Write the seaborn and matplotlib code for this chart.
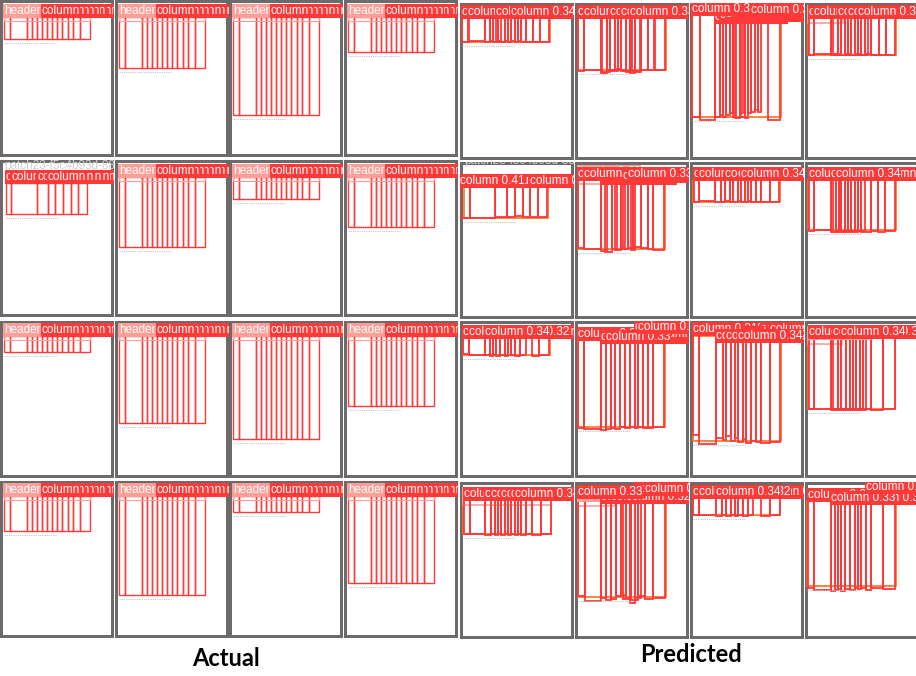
import matplotlib.pyplot as plt
from matplotlib.patches import Rectangle
import seaborn as sns

sns.set_theme(style="white")
plt.rcParams['font.family'] = ['Liberation Sans', 'DejaVu Sans']

RED = '#FF3838'
PINK = '#FF9D97'
ORANGE = '#FF701F'
FRAME = '#6b6b6b'

# column edges of the two table layouts on the ground-truth pages (px from page left)
layout_a = [4, 10, 26.5, 31.5, 36.5, 41.5, 46.5, 51.5, 56.5, 61.5, 68, 73, 80, 90]
layout_b = [6, 11, 37, 48, 55, 63, 71, 78, 87]

# ground truth pages, 4x4 grid: layout, table top, table bottom
actual_layout = [['a', 'a', 'a', 'a'], ['b', 'a', 'a', 'a'],
                 ['a', 'a', 'a', 'a'], ['a', 'a', 'a', 'a']]
actual_top = [[17, 17, 17, 17], [23, 17, 17, 17],
              [15, 15, 15, 15], [15, 15, 15, 15]]
actual_bottom = [[39, 68, 115, 52], [54, 87, 39, 67],
                 [31, 102, 118, 85], [50, 114, 31, 102]]

# predicted tables (x0, top, x1, bottom)
pred_tables = [
    [(2, 15, 90, 39), (3, 15, 91, 67), (2, 12, 91, 114), (3, 15, 91, 52)],
    [(4, 25, 88, 56), (3, 18, 90, 87), (3, 18, 90, 40), (3, 18, 91, 68)],
    [(3, 17, 90, 34), (3, 19, 90, 106), (3, 15, 91, 120), (3, 17, 90, 88)],
    [(3, 18, 91, 52), (3, 16, 91, 115), (3, 16, 90, 33), (2, 19, 91, 104)],
]

# predicted header boxes (x0, x1, top, bottom, score)
pred_headers = [
    [None, None, None, (3, 38, 15, 20, 0.31)],
    [None, (3, 30, 16, 22, 0.30), None, None],
    [None, None, None, (3, 37, 18, 23, 0.31)],
    [(3, 91, 18, 23, 0.32), (3, 40, 19, 24, 0.30), None, None],
]

# predicted column boxes (x0, x1, top, bottom, score)
pred_columns = [
    [
        [(2, 9, 15, 39, .31), (8, 25, 15, 38, .32), (25, 30, 15, 39, .30), (30, 33, 15, 38, .31),
         (33, 38, 15, 39, .30), (36, 41, 15, 38, .32), (38, 45, 15, 39, .31), (45, 48, 15, 38, .31),
         (48, 51, 15, 39, .30), (51, 55, 15, 38, .34), (55, 58, 15, 39, .30), (58, 61, 15, 38, .31),
         (61, 66, 15, 39, .30), (66, 73, 15, 39, .31), (73, 80, 15, 39, .30), (80, 89, 15, 39, .31)],
        [(3, 9, 15, 68, .31), (9, 26, 15, 67, .32), (26, 32, 15, 70, .30), (27, 35, 15, 69, .31),
         (32, 40, 15, 67, .31), (35, 43, 15, 68, .32), (40, 46, 15, 66, .30), (43, 51, 15, 67, .31),
         (46, 55, 15, 68, .32), (51, 56, 15, 69, .30), (55, 60, 15, 70, .33), (57, 65, 15, 68, .32),
         (60, 66, 15, 69, .31), (66, 73, 15, 67, .30), (73, 80, 15, 67, .31), (79, 90, 15, 67, .30)],
        [(2, 10, 12, 114, .33), (10, 25, 12, 117, .32), (25, 30, 20, 114, .30), (30, 33, 18, 112, .31),
         (33, 36, 20, 114, .30), (36, 40, 17, 112, .31), (40, 43, 18, 110, .30), (43, 46, 17, 114, .31),
         (45, 50, 16, 115, .32), (50, 53, 18, 110, .30), (51, 55, 16, 114, .31), (55, 58, 15, 115, .32),
         (58, 61, 14, 110, .31), (61, 65, 13, 109, .35), (65, 68, 13, 107, .30), (68, 71, 13, 109, .32),
         (78, 90, 13, 117, .31)],
        [(4, 9, 15, 52, .31), (9, 26, 15, 51, .32), (26, 33, 15, 52, .30), (28, 36, 15, 51, .31),
         (33, 40, 15, 52, .32), (36, 43, 15, 52, .30), (40, 46, 15, 51, .31), (43, 50, 15, 52, .32),
         (46, 53, 15, 52, .30), (50, 56, 15, 51, .31), (53, 60, 15, 52, .38), (56, 63, 15, 52, .31),
         (60, 66, 15, 51, .31), (66, 74, 15, 52, .32), (74, 81, 15, 52, .30), (81, 90, 15, 52, .31)],
    ],
    [
        [(0, 10, 25, 56, .41), (10, 35, 25, 56, .35), (35, 47, 25, 55, .33), (47, 55, 25, 55, .35),
         (55, 63, 25, 54, .34), (63, 70, 25, 55, .34), (70, 78, 25, 55, .39), (78, 87, 25, 55, .33)],
        [(3, 9, 18, 86, .31), (9, 26, 18, 87, .32), (26, 32, 22, 89, .30), (30, 37, 22, 90, .31),
         (37, 42, 22, 87, .30), (40, 46, 20, 88, .31), (46, 50, 20, 86, .30), (48, 53, 20, 87, .32),
         (53, 58, 18, 86, .33), (56, 60, 20, 88, .30), (58, 66, 18, 85, .32), (66, 73, 18, 86, .31),
         (73, 78, 18, 87, .30), (78, 89, 18, 88, .30)],
        [(4, 9, 18, 40, .31), (9, 25, 18, 39, .32), (25, 31, 18, 40, .30), (31, 35, 18, 40, .31),
         (35, 40, 18, 39, .32), (40, 43, 18, 40, .30), (43, 48, 18, 40, .31), (48, 51, 18, 39, .32),
         (51, 55, 18, 40, .34), (55, 58, 18, 40, .31), (58, 61, 18, 39, .32), (61, 66, 18, 40, .31),
         (66, 71, 18, 40, .32), (71, 80, 18, 40, .30), (80, 89, 18, 40, .31)],
        [(4, 9, 18, 69, .31), (9, 26, 18, 68, .30), (26, 31, 18, 70, .31), (28, 34, 18, 70, .30),
         (31, 36, 18, 69, .34), (34, 40, 18, 70, .31), (36, 43, 18, 69, .30), (40, 46, 18, 70, .31),
         (43, 50, 18, 69, .32), (46, 53, 18, 70, .30), (50, 56, 18, 69, .31), (53, 60, 18, 69, .32),
         (56, 66, 18, 70, .30), (66, 73, 18, 69, .31), (73, 80, 18, 70, .33), (80, 90, 18, 69, .32)],
    ],
    [
        [(3, 9, 17, 33, .31), (9, 25, 17, 34, .31), (25, 30, 17, 34, .34), (30, 33, 17, 35, .31),
         (33, 36, 17, 34, .32), (36, 40, 17, 35, .30), (40, 45, 17, 34, .31), (45, 48, 17, 35, .32),
         (48, 51, 17, 34, .30), (51, 55, 17, 34, .31), (55, 60, 17, 35, .31), (60, 66, 17, 34, .31),
         (72, 79, 17, 35, .30), (79, 89, 17, 34, .31)],
        [(3, 9, 19, 107, .31), (9, 26, 19, 108, .30), (26, 31, 22, 109, .31), (31, 36, 22, 108, .33),
         (36, 40, 22, 107, .32), (40, 45, 22, 108, .31), (45, 50, 22, 106, .30), (50, 55, 22, 107, .32),
         (55, 60, 22, 106, .30), (60, 63, 12, 107, .31), (63, 68, 12, 106, .34), (68, 73, 12, 107, .31),
         (73, 78, 12, 107, .32), (78, 89, 19, 106, .32)],
        [(3, 9, 14, 114, .31), (9, 26, 14, 123, .30), (26, 33, 21, 117, .31), (33, 36, 21, 119, .30),
         (36, 41, 21, 115, .32), (41, 45, 21, 120, .31), (45, 48, 21, 117, .30), (48, 53, 21, 121, .34),
         (53, 56, 21, 118, .32), (56, 61, 18, 122, .31), (61, 66, 18, 120, .31), (66, 71, 18, 121, .30),
         (71, 80, 14, 122, .30), (80, 90, 14, 121, .31)],
        [(4, 9, 17, 88, .31), (9, 26, 17, 88, .30), (26, 33, 17, 89, .31), (28, 36, 17, 88, .32),
         (33, 41, 17, 89, .30), (36, 45, 17, 88, .34), (41, 48, 17, 89, .32), (45, 51, 17, 88, .30),
         (48, 55, 17, 89, .31), (51, 58, 17, 88, .30), (55, 61, 17, 89, .32), (58, 66, 17, 88, .31),
         (66, 78, 17, 89, .31), (78, 90, 17, 88, .30)],
    ],
    [
        [(4, 10, 18, 52, .31), (10, 25, 18, 52, .30), (25, 31, 18, 53, .31), (31, 35, 18, 52, .32),
         (35, 38, 18, 53, .30), (38, 41, 18, 52, .31), (41, 45, 18, 53, .32), (45, 48, 18, 52, .30),
         (48, 51, 18, 53, .31), (51, 55, 18, 52, .32), (55, 58, 18, 53, .34), (58, 61, 18, 52, .31),
         (61, 66, 18, 53, .32), (66, 72, 18, 52, .30), (72, 81, 18, 53, .31), (81, 91, 18, 52, .31)],
        [(3, 10, 16, 114, .33), (10, 26, 16, 119, .30), (26, 31, 21, 116, .31), (31, 36, 21, 118, .30),
         (36, 41, 21, 117, .32), (41, 46, 21, 114, .31), (46, 51, 21, 113, .30), (48, 55, 21, 117, .31),
         (51, 56, 21, 116, .32), (55, 60, 21, 121, .30), (56, 63, 21, 118, .31), (60, 66, 13, 116, .32),
         (63, 70, 13, 114, .30), (70, 78, 13, 117, .34), (78, 90, 13, 116, .32)],
        [(3, 9, 16, 33, .31), (9, 26, 16, 33, .31), (26, 32, 16, 34, .34), (32, 36, 16, 33, .31),
         (36, 41, 16, 34, .32), (41, 45, 16, 33, .30), (45, 48, 16, 34, .30), (48, 53, 16, 33, .31),
         (53, 58, 16, 34, .31), (58, 63, 16, 33, .30), (71, 80, 16, 34, .31), (80, 90, 16, 33, .30)],
        [(3, 9, 19, 106, .31), (9, 26, 19, 108, .30), (26, 30, 22, 109, .33), (30, 33, 22, 108, .30),
         (33, 36, 22, 107, .32), (36, 40, 22, 109, .31), (40, 45, 22, 107, .30), (45, 50, 22, 108, .32),
         (50, 53, 22, 106, .31), (53, 56, 22, 107, .30), (56, 61, 22, 106, .32), (61, 66, 11, 108, .34),
         (66, 78, 11, 106, .30), (78, 90, 11, 107, .32)],
    ],
]

patch_name = 'patch23-f5c4b93d-8875'

# panel placement in the picture (px)
W, H = 916, 676
actual_left = [0, 115, 229, 344]
actual_tops = [0, 160, 321, 481]
pred_left = [460, 575, 690, 805]
pred_tops = [3, 162, 321, 482]
panel_w, panel_h = 114, 157

fig = plt.figure(figsize=(W / 100, H / 100), dpi=100)
fig.patch.set_facecolor('white')


def make_panel(left, top):
    ax = fig.add_axes([left / W, 1 - (top + panel_h) / H, panel_w / W, panel_h / H])
    ax.set_xlim(0, panel_w)
    ax.set_ylim(panel_h, 0)
    ax.axis('off')
    ax.add_patch(Rectangle((0, 0), panel_w, panel_h, facecolor=FRAME, edgecolor='none'))
    ax.add_patch(Rectangle((3, 3), panel_w - 6, panel_h - 6, facecolor='white', edgecolor='none'))
    return ax


def label(ax, x, y, text, color):
    ax.text(x, y, text, fontsize=8.5, color='white', ha='left', va='bottom', clip_on=True,
            bbox=dict(boxstyle='square,pad=0.05', facecolor=color, edgecolor='none'))


def box(ax, x0, x1, y0, y1, color, lw=1.0):
    ax.add_patch(Rectangle((x0, y0), x1 - x0, y1 - y0, fill=False, edgecolor=color, linewidth=lw))


def footer(ax, x0, y):
    ax.plot([x0, x0 + 52], [y, y], color='#c4c4c4', lw=0.8, ls=(0, (1, 1)))


# ground truth
for r in range(4):
    for c in range(4):
        ax = make_panel(actual_left[c], actual_tops[r])
        edges = layout_a if actual_layout[r][c] == 'a' else layout_b
        top, bottom = actual_top[r][c], actual_bottom[r][c]
        if r == 1 and c == 0:
            ax.text(4, top - 11, patch_name, fontsize=8.5, color='#d2d2d2', va='bottom', clip_on=True)
        footer(ax, edges[0], bottom + 4)
        lefts = edges[:-1]
        for i in range(len(lefts)):
            box(ax, edges[i], edges[i + 1], top, bottom, RED)
        # labels near the page edge go first, the rest are stacked right to left
        order = [x for x in lefts if x < 40] + sorted([x for x in lefts if x >= 40], reverse=True)
        for x in order:
            label(ax, x, top, 'column', RED)
        if actual_layout[r][c] == 'a':
            box(ax, edges[0], edges[-1], top, top + 4, PINK, lw=0.8)
            label(ax, edges[0], top, 'header', PINK)

# predictions
for r in range(4):
    for c in range(4):
        ax = make_panel(pred_left[c], pred_tops[r])
        tx0, ttop, tx1, tbot = pred_tables[r][c]
        if r == 1 and c == 0:
            ax.text(4, ttop - 20, patch_name, fontsize=8.5, color='#d2d2d2', va='bottom', clip_on=True)
        footer(ax, tx0, tbot + 4)
        box(ax, tx0, tx1, ttop, tbot, ORANGE, lw=1.2)
        hd = pred_headers[r][c]
        if hd is not None:
            box(ax, hd[0], hd[1], hd[2], hd[3], PINK, lw=1.2)
            label(ax, hd[0], hd[2], f'header {hd[4]:.2f}', PINK)
        cols = pred_columns[r][c]
        for x0, x1, y0, y1, s in cols:
            box(ax, x0, x1, y0, y1, RED, lw=1.3)
        # higher confidence labels are drawn on top
        for x0, x1, y0, y1, s in sorted(cols, key=lambda b: (b[4], b[0])):
            label(ax, x0, y0, f'column {s:.2f}', RED)

fig.text(225.5 / W, 1 - 659 / H, 'Actual', ha='center', va='center',
         fontsize=17, fontweight='bold', family='Lato', color='black')
fig.text(690.5 / W, 1 - 655 / H, 'Predicted', ha='center', va='center',
         fontsize=17, fontweight='bold', family='Lato', color='black')

fig.savefig('out.png', dpi=100)
